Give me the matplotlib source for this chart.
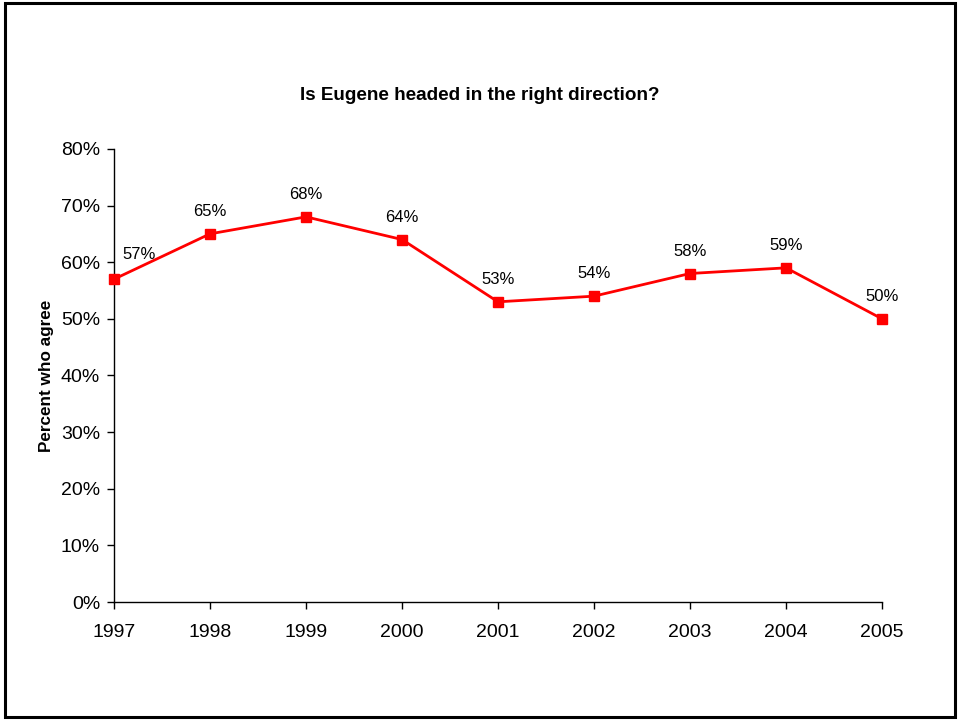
import matplotlib.pyplot as plt
from matplotlib.patches import Rectangle

plt.rcParams['font.family'] = ['Liberation Sans', 'DejaVu Sans']

years = ['1997', '1998', '1999', '2000', '2001', '2002', '2003', '2004', '2005']
agree = [57, 65, 68, 64, 53, 54, 58, 59, 50]
yticks = [0, 10, 20, 30, 40, 50, 60, 70, 80]

fig = plt.figure(figsize=(9.6, 7.21), dpi=100)
ax = fig.add_axes([0.11875, 0.165, 0.8, 0.6285])

x = list(range(len(years)))
ax.plot(x, agree, color='#ff0000', lw=2.0, marker='s', markersize=7,
        markeredgecolor='#ff0000', clip_on=False, zorder=3)

for i, v in enumerate(agree):
    if i == 0:
        ax.annotate(f'{v}%', (i, v), xytext=(6, 18), textcoords='offset points',
                    ha='left', va='center', fontsize=12)
    else:
        ax.annotate(f'{v}%', (i, v), xytext=(0, 16), textcoords='offset points',
                    ha='center', va='center', fontsize=12)

ax.set_xlim(0, len(years) - 1)
ax.set_ylim(0, 80)
ax.set_xticks(x)
ax.set_xticklabels(years, fontsize=14)
ax.set_yticks(yticks)
ax.set_yticklabels([f'{t}%' for t in yticks], fontsize=14)
ax.tick_params(axis='both', direction='out', length=5, width=1)
ax.tick_params(axis='x', pad=11)
ax.tick_params(axis='y', pad=5)

for s in ['top', 'right']:
    ax.spines[s].set_visible(False)
for s in ['left', 'bottom']:
    ax.spines[s].set_linewidth(1)

ax.set_ylabel('Percent who agree', fontsize=12.3, fontweight='bold', labelpad=5)
fig.text(0.5, 0.868, 'Is Eugene headed in the right direction?',
         ha='center', va='center', fontsize=13.6, fontweight='bold')

# black frame around the whole chart
fig.patches.append(Rectangle((0.005, 0.006), 0.99, 0.99, transform=fig.transFigure,
                             fill=False, edgecolor='black', lw=2.2))

fig.savefig('out.png', dpi=100)
